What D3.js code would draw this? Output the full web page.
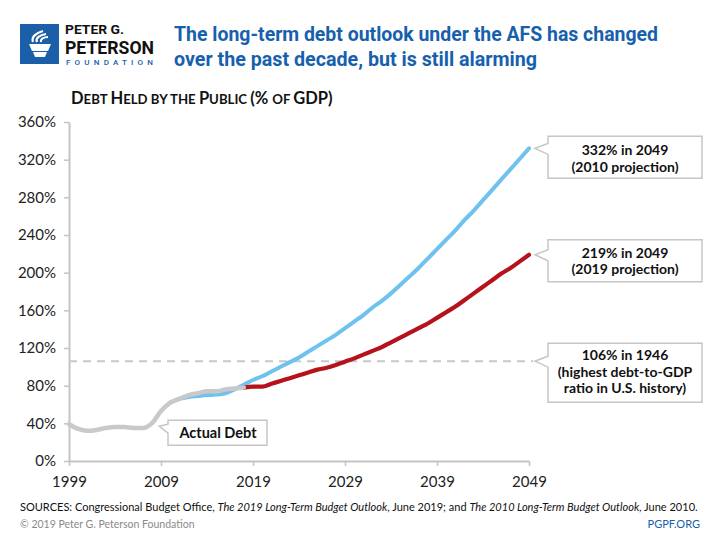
<!DOCTYPE html>
<html><head><meta charset="utf-8">
<script src="https://cdn.jsdelivr.net/npm/d3@7"></script>
<style>
body{margin:0;background:#fff;}
svg text{font-family:Lato,"Open Sans",sans-serif;}
</style></head>
<body><svg id="c" width="720" height="540"></svg>
<script>
// ---- data ----
const actualYears = d3.range(1999, 2019);
const actualValues = [39, 34, 32, 33, 35, 36, 36, 35, 35, 40, 53, 62, 66, 70, 72, 74, 74, 76, 77, 78];
const proj2010Years = d3.range(2010, 2050);
const proj2010Values = [62, 66, 68, 69, 70, 70.5, 72, 76, 81, 86,
  90, 95, 100, 105, 110, 116, 122, 128, 134, 141,
  148, 155, 163, 170, 178, 187, 196, 205, 215, 225,
  235, 245, 256, 266, 277, 288, 299, 310, 321, 332];
const proj2019Years = d3.range(2018, 2050);
const proj2019Values = [78, 79, 79, 82, 85, 88, 91, 94, 97, 99,
  102, 105.5, 109, 113, 117, 121, 126, 131, 136, 141,
  146, 152, 158, 164, 171, 178, 185, 192, 199, 205, 212, 219];
const historicHigh = 106;
const xTicks = [1999, 2009, 2019, 2029, 2039, 2049];
const yTicks = [0, 40, 80, 120, 160, 200, 240, 280, 320, 360];
const titleLines = ["The long-term debt outlook under the AFS has changed", "over the past decade, but is still alarming"];
const callouts = [
  {lines: ["332% in 2049", "(2010 projection)"], year: 2049, value: 332},
  {lines: ["219% in 2049", "(2019 projection)"], year: 2049, value: 219},
  {lines: ["106% in 1946", "(highest debt-to-GDP", "ratio in U.S. history)"], year: 2049, value: 106}
];

const svg = d3.select("#c");
const x = d3.scaleLinear().domain([1999, 2049]).range([69, 529]);
const y = d3.scaleLinear().domain([0, 360]).range([461, 122]);
const blue = "#1760ad";

// ---- logo ----
const logo = svg.append("g");
logo.append("rect").attr("x", 20).attr("y", 24).attr("width", 39).attr("height", 40).attr("fill", "#1b5fa8");
// torch
logo.append("path").attr("d", "M29,44 L51,44 L48,51 L32,51 Z").attr("fill", "#fff");
logo.append("path").attr("d", "M33,52 L47,52 L45,57 L35,57 Z").attr("fill", "#fff");
logo.append("path").attr("d", "M33,42 C31,37 36,33 43,31").attr("stroke", "#fff").attr("stroke-width", 2.2).attr("fill", "none");
logo.append("path").attr("d", "M37,42 C35,38 40,35 46,34").attr("stroke", "#fff").attr("stroke-width", 2.2).attr("fill", "none");
logo.append("path").attr("d", "M41,42 C40,39 44,37 48,37").attr("stroke", "#fff").attr("stroke-width", 2).attr("fill", "none");
logo.append("text").attr("x", 65).attr("y", 34).attr("textLength", 59).attr("lengthAdjust", "spacingAndGlyphs")
  .style("font-family", "Roboto").style("font-weight", 700).style("font-size", "12.5px").attr("fill", "#111").text("PETER G.");
logo.append("text").attr("x", 65).attr("y", 54).attr("textLength", 89).attr("lengthAdjust", "spacingAndGlyphs")
  .style("font-family", "Roboto").style("font-weight", 700).style("font-size", "19px").attr("fill", "#111").text("PETERSON");
logo.append("text").attr("x", 66).attr("y", 64.5).attr("textLength", 87).attr("lengthAdjust", "spacing")
  .style("font-family", "Roboto").style("font-weight", 500).style("font-size", "8px").attr("fill", blue).text("FOUNDATION");

// ---- title ----
const titleWidths = [484, 363];
titleLines.forEach((t, i) => {
  svg.append("text").attr("x", 174).attr("y", 41 + i * 25)
    .attr("textLength", titleWidths[i]).attr("lengthAdjust", "spacingAndGlyphs")
    .style("font-family", "Roboto").style("font-weight", 700).style("font-size", "21px")
    .attr("fill", blue).text(t);
});

// ---- axis title (small caps) ----
const at = svg.append("text").attr("x", 71).attr("y", 104).attr("fill", "#111")
  .style("font-weight", 700).style("font-family", "Lato");
[["D",16.5],["EBT ",13.2],["H",16.5],["ELD BY THE ",13.2],["P",16.5],["UBLIC ",13.2],["(% ",16.5],["OF ",13.2],["GDP)",16.5]]
  .forEach(([s, fs]) => at.append("tspan").style("font-size", fs + "px").text(s));

// ---- axes ----
const yAxis = svg.append("g").attr("transform", "translate(69,0)")
  .call(d3.axisLeft(y).tickValues(yTicks).tickFormat(d => d + "%").tickSize(5).tickSizeOuter(0).tickPadding(8));
const xAxis = svg.append("g").attr("transform", "translate(0,461)")
  .call(d3.axisBottom(x).tickValues(xTicks).tickFormat(d3.format("d")).tickSize(5).tickSizeOuter(0).tickPadding(7));
[yAxis, xAxis].forEach(g => {
  g.select(".domain").attr("stroke", "#c4c4c4").attr("stroke-width", 2);
  g.selectAll(".tick line").attr("stroke", "#c4c4c4").attr("stroke-width", 1.5);
  g.selectAll(".tick text").attr("fill", "#222").style("font-size", "15px").style("font-family", "Lato");
});
xAxis.selectAll(".tick text").attr("dy", "0.95em");

// ---- historic high dashed line ----
svg.append("line").attr("x1", x(1999)).attr("x2", x(2049) + 4)
  .attr("y1", y(historicHigh)).attr("y2", y(historicHigh))
  .attr("stroke", "#c8c8c8").attr("stroke-width", 2).attr("stroke-dasharray", "8,6");

// ---- lines ----
const line = d3.line().x(d => x(d[0])).y(d => y(d[1])).curve(d3.curveMonotoneX);
const z = (ys, vs) => ys.map((yr, i) => [yr, vs[i]]);
svg.append("path").datum(z(proj2010Years, proj2010Values)).attr("d", line)
  .attr("fill", "none").attr("stroke", "#6fc2f0").attr("stroke-width", 4).attr("stroke-linecap", "round");
svg.append("path").datum(z(proj2019Years, proj2019Values)).attr("d", line)
  .attr("fill", "none").attr("stroke", "#b5121b").attr("stroke-width", 4.2).attr("stroke-linecap", "round");
svg.append("path").datum(z(actualYears, actualValues)).attr("d", line)
  .attr("fill", "none").attr("stroke", "#c9c9c9").attr("stroke-width", 4.5).attr("stroke-linecap", "round");

// ---- callouts ----
function callout(tipX, tipY, bx0, by0, bx1, by1, pTop, pBot) {
  const p = `M${bx0},${by0} H${bx1} V${by1} H${bx0} V${pBot} L${tipX},${tipY} L${bx0},${pTop} Z`;
  svg.append("path").attr("d", p).attr("fill", "#fff").attr("stroke", "#c6c6c6").attr("stroke-width", 1.5);
}
const boxDims = [
  {top: -12, bottom: 30, lh: 17, first: 7},
  {top: -15, bottom: 27, lh: 16.5, first: 3},
  {top: -18, bottom: 41, lh: 16.5, first: -1}
];
callouts.forEach((c, i) => {
  const tx = x(c.year) + 6, ty = y(c.value), d = boxDims[i];
  callout(tx, ty, 548, ty + d.top, 702, ty + d.bottom, ty - 5, ty + 6);
  c.lines.forEach((l, j) => {
    svg.append("text").attr("x", 625).attr("y", ty + d.first + j * d.lh).attr("text-anchor", "middle")
      .attr("fill", "#111").style("font-size", "14px").style("font-weight", 700).text(l);
  });
});
// actual debt callout
const adX = x(2008.8), adY = y(37);
callout(adX, adY, 168, adY - 6, 267, adY + 19, adY - 2, adY + 7);
svg.append("text").attr("x", 218).attr("y", adY + 12).attr("text-anchor", "middle")
  .attr("fill", "#111").style("font-size", "14.5px").style("font-weight", 700).text("Actual Debt");

// ---- footer ----
const src = svg.append("text").attr("x", 20).attr("y", 511).attr("fill", "#111")
  .style("font-size", "11px").style("font-family", "Lato");
[["SOURCES: Congressional Budget Office, ", false], ["The 2019 Long-Term Budget Outlook", true], [", June 2019; and ", false],
 ["The 2010 Long-Term Budget Outlook", true], [", June 2010.", false]]
  .forEach(([s, it]) => src.append("tspan").style("font-style", it ? "italic" : "normal").text(s));
svg.append("text").attr("x", 20).attr("y", 528).attr("fill", "#8a8a8a").style("font-size", "10.5px").text("© 2019 Peter G. Peterson Foundation");
svg.append("text").attr("x", 700).attr("y", 528).attr("text-anchor", "end").attr("fill", blue).style("font-size", "11px").text("PGPF.ORG");
</script></body></html>
